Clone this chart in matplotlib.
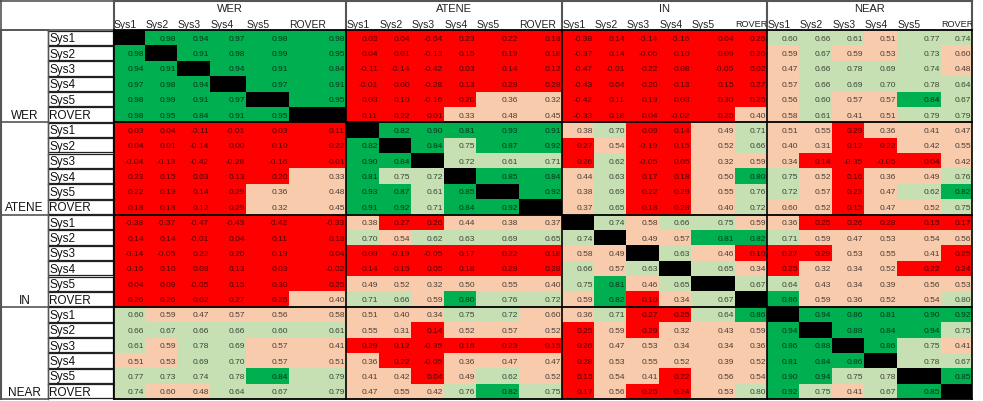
import matplotlib.pyplot as plt
import numpy as np
from matplotlib.colors import ListedColormap, BoundaryNorm
from matplotlib.transforms import Bbox, TransformedBbox

# group / system names
groups = ['WER', 'ATENE', 'IN', 'NEAR']
systems = ['Sys1', 'Sys2', 'Sys3', 'Sys4', 'Sys5', 'ROVER']

# correlation values, one block of rows per group (columns: WER, ATENE, IN, NEAR x 6 systems)
wer_rows = [
    [1.00, 0.98, 0.94, 0.97, 0.98, 0.98, 0.03, 0.04, -0.04, 0.23, 0.22, 0.18, -0.38, 0.14, -0.14, -0.16, 0.04, 0.26, 0.60, 0.66, 0.61, 0.51, 0.77, 0.74],
    [0.98, 1.00, 0.91, 0.98, 0.99, 0.95, 0.04, 0.01, -0.13, 0.15, 0.19, 0.18, -0.37, 0.14, -0.05, 0.10, 0.09, 0.26, 0.59, 0.67, 0.59, 0.53, 0.73, 0.597],
    [0.94, 0.91, 1.00, 0.94, 0.91, 0.84, -0.11, -0.14, -0.42, 0.03, 0.14, 0.12, -0.47, -0.01, 0.22, 0.08, -0.05, 0.02, 0.47, 0.66, 0.78, 0.69, 0.74, 0.48],
    [0.97, 0.98, 0.94, 1.00, 0.97, 0.91, -0.01, 0.00, -0.28, 0.13, 0.29, 0.29, -0.43, 0.04, 0.20, 0.13, 0.15, 0.27, 0.57, 0.66, 0.69, 0.70, 0.78, 0.64],
    [0.98, 0.99, 0.91, 0.97, 1.00, 0.95, 0.03, 0.10, -0.16, 0.20, 0.36, 0.32, -0.42, 0.11, 0.19, 0.03, 0.30, 0.25, 0.56, 0.60, 0.57, 0.57, 0.84, 0.67],
    [0.98, 0.95, 0.84, 0.91, 0.95, 1.00, 0.11, 0.22, 0.01, 0.33, 0.48, 0.45, -0.33, 0.18, 0.04, -0.02, 0.25, 0.40, 0.58, 0.61, 0.41, 0.51, 0.79, 0.79],
]
atene_rows = [
    [0.03, 0.04, -0.11, -0.01, 0.03, 0.11, 1.00, 0.82, 0.90, 0.81, 0.93, 0.91, 0.38, 0.70, 0.09, 0.14, 0.49, 0.71, 0.51, 0.55, 0.29, 0.36, 0.41, 0.47],
    [0.04, 0.01, -0.14, 0.00, 0.10, 0.22, 0.82, 1.00, 0.84, 0.75, 0.87, 0.92, 0.27, 0.54, -0.19, 0.15, 0.52, 0.66, 0.40, 0.31, 0.12, 0.22, 0.42, 0.55],
    [-0.04, -0.13, -0.42, -0.28, -0.16, 0.01, 0.90, 0.84, 1.00, 0.72, 0.61, 0.71, 0.26, 0.62, -0.05, 0.05, 0.32, 0.59, 0.34, 0.14, -0.35, -0.05, 0.04, 0.42],
    [0.23, 0.15, 0.03, 0.13, 0.20, 0.33, 0.81, 0.75, 0.72, 1.00, 0.85, 0.84, 0.44, 0.63, 0.17, 0.18, 0.50, 0.80, 0.75, 0.52, 0.16, 0.36, 0.49, 0.76],
    [0.22, 0.19, 0.14, 0.29, 0.36, 0.48, 0.93, 0.87, 0.61, 0.85, 1.00, 0.92, 0.38, 0.69, 0.22, 0.29, 0.55, 0.76, 0.72, 0.57, 0.23, 0.47, 0.62, 0.82],
    [0.18, 0.18, 0.12, 0.29, 0.32, 0.45, 0.91, 0.92, 0.71, 0.84, 0.92, 1.00, 0.37, 0.65, 0.18, 0.28, 0.40, 0.72, 0.597, 0.52, 0.15, 0.47, 0.52, 0.75],
]
in_rows = [
    [-0.38, -0.37, -0.47, -0.43, -0.42, -0.33, 0.38, 0.27, 0.26, 0.44, 0.38, 0.37, 1.00, 0.74, 0.58, 0.66, 0.75, 0.59, 0.36, 0.25, 0.26, 0.28, 0.15, 0.17],
    [0.14, 0.14, -0.01, 0.04, 0.11, 0.18, 0.70, 0.54, 0.62, 0.63, 0.69, 0.65, 0.74, 1.00, 0.49, 0.57, 0.81, 0.82, 0.71, 0.59, 0.47, 0.53, 0.54, 0.56],
    [-0.14, -0.05, 0.22, 0.20, 0.19, 0.04, 0.09, -0.19, -0.05, 0.17, 0.22, 0.18, 0.58, 0.49, 1.00, 0.63, 0.46, 0.10, 0.27, 0.29, 0.53, 0.55, 0.41, 0.25],
    [-0.16, 0.10, 0.08, 0.13, 0.03, -0.02, 0.14, 0.15, 0.05, 0.18, 0.29, 0.28, 0.66, 0.57, 0.63, 1.00, 0.65, 0.34, 0.25, 0.32, 0.34, 0.52, 0.22, 0.24],
    [0.04, 0.09, -0.05, 0.15, 0.30, 0.25, 0.49, 0.52, 0.32, 0.50, 0.55, 0.40, 0.75, 0.81, 0.46, 0.65, 1.00, 0.67, 0.64, 0.43, 0.34, 0.39, 0.56, 0.53],
    [0.26, 0.26, 0.02, 0.27, 0.25, 0.40, 0.71, 0.66, 0.59, 0.80, 0.76, 0.72, 0.59, 0.82, 0.10, 0.34, 0.67, 1.00, 0.86, 0.59, 0.36, 0.52, 0.54, 0.798],
]
near_rows = [
    [0.60, 0.59, 0.47, 0.57, 0.56, 0.58, 0.51, 0.40, 0.34, 0.75, 0.72, 0.597, 0.36, 0.71, 0.27, 0.25, 0.64, 0.86, 1.00, 0.94, 0.86, 0.81, 0.90, 0.92],
    [0.66, 0.67, 0.66, 0.66, 0.60, 0.61, 0.55, 0.31, 0.14, 0.52, 0.57, 0.52, 0.25, 0.59, 0.29, 0.32, 0.43, 0.59, 0.94, 1.00, 0.88, 0.84, 0.94, 0.75],
    [0.61, 0.59, 0.78, 0.69, 0.57, 0.41, 0.29, 0.12, -0.35, 0.16, 0.23, 0.15, 0.26, 0.47, 0.53, 0.34, 0.34, 0.36, 0.86, 0.88, 1.00, 0.86, 0.75, 0.41],
    [0.51, 0.53, 0.69, 0.70, 0.57, 0.51, 0.36, 0.22, -0.05, 0.36, 0.47, 0.47, 0.28, 0.53, 0.55, 0.52, 0.39, 0.52, 0.81, 0.84, 0.86, 1.00, 0.78, 0.67],
    [0.77, 0.73, 0.74, 0.78, 0.84, 0.79, 0.41, 0.42, 0.04, 0.49, 0.62, 0.52, 0.15, 0.54, 0.41, 0.22, 0.56, 0.54, 0.90, 0.94, 0.75, 0.78, 1.00, 0.85],
    [0.74, 0.597, 0.48, 0.64, 0.67, 0.79, 0.47, 0.55, 0.42, 0.76, 0.82, 0.75, 0.17, 0.56, 0.25, 0.24, 0.53, 0.798, 0.92, 0.75, 0.41, 0.67, 0.85, 1.00],
]

corr = np.array(wer_rows + atene_rows + in_rows + near_rows)

# layout in pixels
col_widths = [31.5, 32, 33, 36, 43, 57,
              33, 32, 33, 32, 43, 43,
              32, 32, 33, 32, 44, 32,
              32, 33, 32, 33, 44, 31]
x_start = 113.5
x_edges = x_start + np.concatenate([[0], np.cumsum(col_widths)])
head_top, head_mid, data_top, data_bot = 2, 16, 31, 400
y_edges = np.linspace(data_top, data_bot, 25)
grp_x = x_edges[::6]
grp_y = y_edges[::6]

plt.rcParams['font.family'] = ['Liberation Sans Narrow', 'Liberation Sans', 'DejaVu Sans']

fig = plt.figure(figsize=(9.83, 4.02), dpi=100)
ax = fig.add_axes([0, 0, 1, 1])
ax.set_xlim(0, 983)
ax.set_ylim(402, 0)
ax.axis('off')

# cell colours: red / peach / light green / green / black diagonal
cmap = ListedColormap(['#ff0000', '#f8cbad', '#c6e0b4', '#00b050', '#000000'])
norm = BoundaryNorm([-1, 0.305, 0.6, 0.8, 0.995, 1.01], cmap.N)
ax.pcolormesh(x_edges, y_edges, corr, cmap=cmap, norm=norm)

# values, right aligned in each cell
for i in range(corr.shape[0]):
    yc = (y_edges[i] + y_edges[i + 1]) / 2
    for j in range(corr.shape[1]):
        ax.text(x_edges[j + 1] - 1, yc + 0.5, f'{corr[i, j]:.2f}', ha='right', va='center',
                fontsize=6, color='black', alpha=0.7)

# header texts, clipped to their cell like a spreadsheet
for g, name in enumerate(groups):
    ax.text((grp_x[g] + grp_x[g + 1]) / 2, (head_top + head_mid) / 2 + 0.5, name,
            ha='center', va='center', fontsize=8, color='#222222')
    for k, s in enumerate(systems):
        c = g * 6 + k
        fs = 6.6 if (s == 'ROVER' and col_widths[c] < 36) else 7.5
        t = ax.text(x_edges[c] + 0.5, (head_mid + data_top) / 2 + 1, s,
                    ha='left', va='center', fontsize=fs, color='#222222')
        t.set_clip_box(TransformedBbox(Bbox([[x_edges[c], head_mid], [x_edges[c + 1], data_top]]),
                                       ax.transData))
        t.set_clip_on(True)

# row labels and group labels
for i in range(24):
    yc = (y_edges[i] + y_edges[i + 1]) / 2
    ax.text(49.5, yc + 0.5, systems[i % 6], ha='left', va='center', fontsize=8.5, color='#111111')
    ax.plot([48, 112.5, 112.5, 48, 48], [y_edges[i] + 0.6, y_edges[i] + 0.6, y_edges[i + 1] - 0.6,
            y_edges[i + 1] - 0.6, y_edges[i] + 0.6], color='#222222', lw=0.9)
for g, name in enumerate(groups):
    yc = (y_edges[g * 6 + 5] + y_edges[g * 6 + 6]) / 2
    ax.text(24.5, yc + 0.5, name, ha='center', va='center', fontsize=8.5, color='#111111')

# border lines
gray = '#555555'
ax.plot([1, 113.5, 113.5, 1, 1], [head_top, head_top, data_top, data_top, head_top], color=gray, lw=1.2)
for xg in grp_x:
    ax.plot([xg, xg], [head_top, data_top], color=gray, lw=1.5)
    ax.plot([xg, xg], [data_top, data_bot], color='black', lw=1.2)
ax.plot([grp_x[0], grp_x[-1]], [head_top, head_top], color=gray, lw=1.5)
for yg in grp_y:
    ax.plot([grp_x[0], grp_x[-1]], [yg, yg], color='black', lw=1.3)
    ax.plot([1, 48], [yg, yg], color=gray, lw=1.2)
ax.plot([1, 1], [data_top, data_bot], color=gray, lw=1.5)
ax.plot([48, 48], [data_top, data_bot], color=gray, lw=1.0)

fig.savefig('out.png', dpi=100)
